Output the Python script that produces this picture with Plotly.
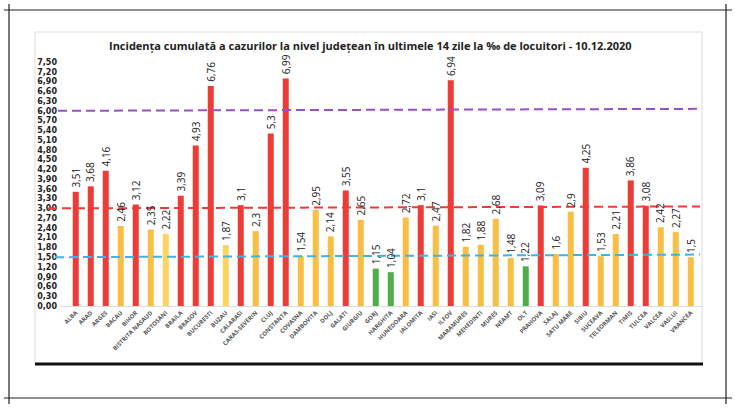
import plotly.graph_objects as go

counties = ["ALBA", "ARAD", "ARGES", "BACAU", "BIHOR", "BISTRITA NASAUD", "BOTOSANI", "BRAILA",
            "BRASOV", "BUCURESTI", "BUZAU", "CALARASI", "CARAS-SEVERIN", "CLUJ", "CONSTANTA",
            "COVASNA", "DAMBOVITA", "DOLJ", "GALATI", "GIURGIU", "GORJ", "HARGHITA", "HUNEDOARA",
            "IALOMITA", "IASI", "ILFOV", "MARAMURES", "MEHEDINTI", "MURES", "NEAMT", "OLT",
            "PRAHOVA", "SALAJ", "SATU MARE", "SIBIU", "SUCEAVA", "TELEORMAN", "TIMIS", "TULCEA",
            "VALCEA", "VASLUI", "VRANCEA"]
incidence = [3.51, 3.68, 4.16, 2.46, 3.12, 2.35, 2.22, 3.39, 4.93, 6.76, 1.87, 3.1, 2.3, 5.3,
             6.99, 1.54, 2.95, 2.14, 3.55, 2.65, 1.15, 1.04, 2.72, 3.1, 2.47, 6.94, 1.82, 1.88,
             2.68, 1.48, 1.22, 3.09, 1.6, 2.9, 4.25, 1.53, 2.21, 3.86, 3.08, 2.42, 2.27, 1.5]
# scenario per county: R = red, O = orange, Y = yellow, G = green
scenario = ["R", "R", "R", "O", "R", "O", "Y", "R", "R", "R", "Y", "R", "O", "R", "R",
            "O", "O", "O", "R", "O", "G", "G", "O", "R", "O", "R", "O", "O", "O", "O", "G",
            "R", "O", "O", "R", "O", "O", "R", "R", "O", "O", "O"]
y_ticks = [round(i * 0.3, 2) for i in range(26)]
thresholds = [(6.0, 6.06), (3.0, 3.06), (1.5, 1.58)]

palette = {"R": "#EE3B36", "O": "#F8BF44", "Y": "#FCD45E", "G": "#4DAE4A"}
colors = [palette[s] for s in scenario]
labels = [str(v).replace(".", ",") for v in incidence]

W, H = 735, 408
L, R, T, B = 60, 33, 62, 102
PW, PH = W - L - R, H - T - B


def px(x):
    return (x - L) / PW


def py(y):
    return (H - B - y) / PH


fig = go.Figure()
fig.add_trace(go.Bar(
    x=counties, y=incidence, marker=dict(color=colors, line=dict(width=0)),
    width=0.4, hoverinfo="x+y",
))

annotations = [dict(
    text="Incidența cumulată a cazurilor la nivel județean în ultimele 14 zile la ‰ de locuitori - 10.12.2020",
    xref="paper", yref="paper", x=px(370), y=py(46), showarrow=False,
    xanchor="center", yanchor="middle",
    font=dict(family="Open Sans", size=11, color="#222", weight="bold"))]
for c, v, t in zip(counties, incidence, labels):
    annotations.append(dict(
        x=c, y=v, xref="x", yref="y", text=t, textangle=-90, showarrow=False,
        xanchor="center", yanchor="bottom", yshift=2,
        font=dict(family="Open Sans", size=10, color="#222")))

shapes = []
line_cols = ["#9B4FC4", "#EE3B36", "#3CB4E6"]
line_starts = [58, 48, 55]
for (y0, y1), c, xs in zip(thresholds, line_cols, line_starts):
    shapes.append(dict(type="line", xref="paper", yref="y", x0=px(xs), x1=px(700),
                       y0=y0, y1=y1, line=dict(color=c, width=2, dash="9px,5px")))
# inner chart box
shapes.append(dict(type="rect", xref="paper", yref="paper", x0=px(35), x1=px(702),
                   y0=py(364), y1=py(32), line=dict(color="#DDDDDD", width=1), layer="below"))
shapes.append(dict(type="line", xref="paper", yref="paper", x0=px(35), x1=px(703),
                   y0=py(364), y1=py(364), line=dict(color="#111", width=3)))
# outer frame
frame = "#222"
shapes.append(dict(type="line", xref="paper", yref="paper", x0=px(4), x1=px(732),
                   y0=py(10), y1=py(10), line=dict(color=frame, width=1.2)))
shapes.append(dict(type="line", xref="paper", yref="paper", x0=px(4), x1=px(732),
                   y0=py(398), y1=py(398), line=dict(color=frame, width=1.2)))
shapes.append(dict(type="line", xref="paper", yref="paper", x0=px(9), x1=px(9),
                   y0=py(4), y1=py(404), line=dict(color=frame, width=1.2)))
shapes.append(dict(type="line", xref="paper", yref="paper", x0=px(726), x1=px(726),
                   y0=py(4), y1=py(404), line=dict(color=frame, width=1.2)))

fig.update_layout(
    width=W, height=H, margin=dict(l=L, r=R, t=T, b=B, autoexpand=False),
    paper_bgcolor="white", plot_bgcolor="white", showlegend=False,
    separators=",.",
    shapes=shapes,
    annotations=annotations,
    xaxis=dict(type="category", range=[-1.05, 41.75], tickangle=-45,
               tickfont=dict(family="Open Sans", size=6, color="#555", weight="bold"),
               showline=True, linecolor="#DDDDDD", linewidth=1, ticks="", showgrid=False,
               fixedrange=True),
    yaxis=dict(range=[0, 7.5], tickvals=y_ticks,
               ticktext=[f"{v:.2f}".replace(".", ",") for v in y_ticks],
               tickfont=dict(family="DejaVu Sans", size=8, color="#222", weight="bold"),
               showgrid=False, zeroline=False, showline=False, ticks="", ticklabelstandoff=2,
               fixedrange=True),
)

fig.write_html("out.html", config={"displayModeBar": False},
               post_script="document.body.style.margin='0';document.body.style.overflow='hidden';")
